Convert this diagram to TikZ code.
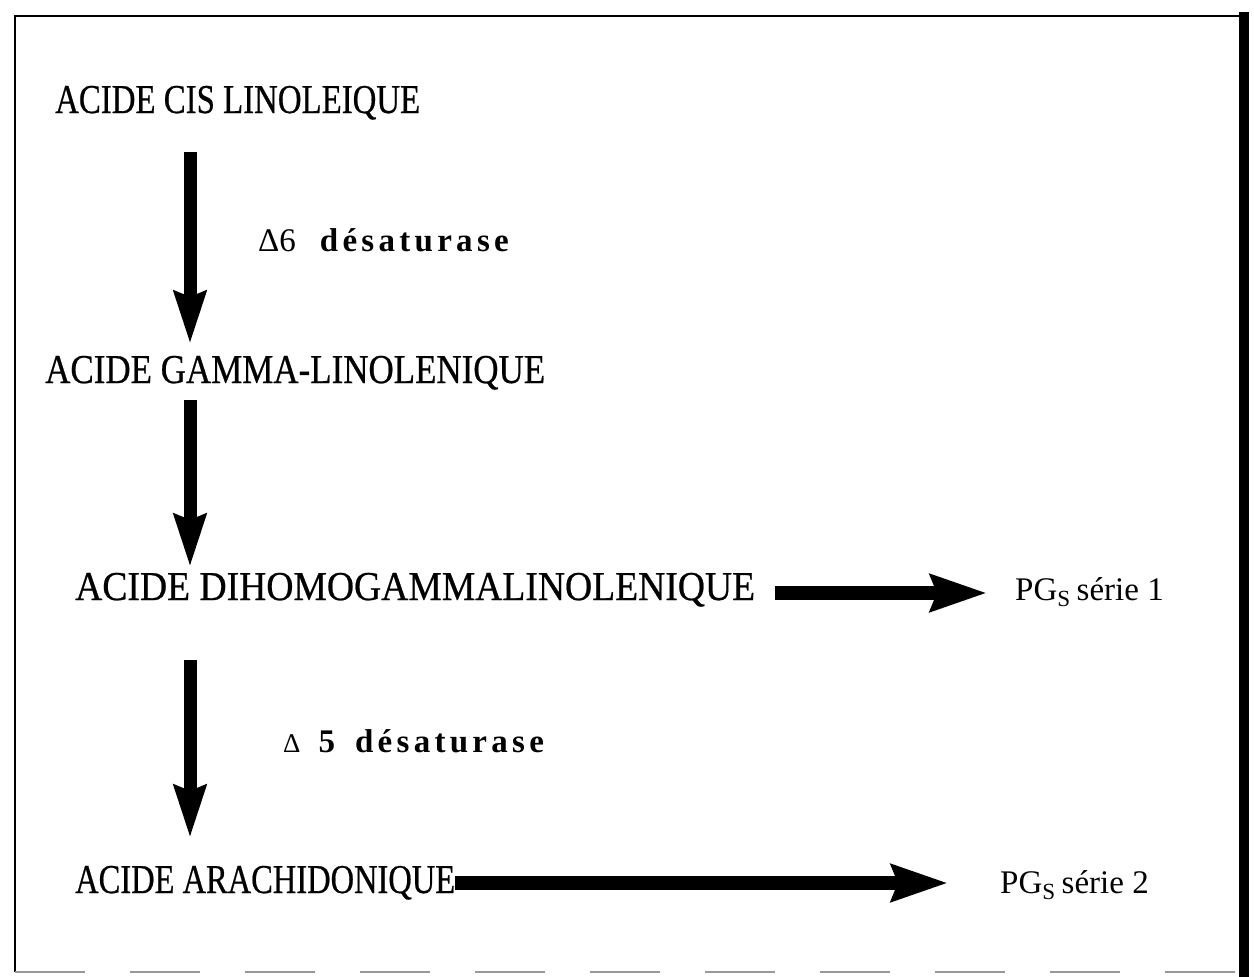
\documentclass[tikz,border=0pt]{standalone}
\usepackage{fontspec}
\setmainfont{Liberation Serif}
\newfontfamily\lblfont[LetterSpace=13]{Liberation Serif}
\newfontfamily\bigfont[FakeBold=0.6]{Liberation Serif}
\usetikzlibrary{arrows.meta}
\newcommand{\fitw}[2]{\resizebox{#1}{\height}{#2}}
\tikzset{
  big/.style={anchor=base west, inner sep=0pt, font=\bigfont\fontsize{41}{43}\selectfont},
  lbl/.style={anchor=base west, inner sep=0pt, font=\fontsize{33}{36}\selectfont},
  pg/.style={anchor=base west, inner sep=0pt, font=\fontsize{33}{35}\selectfont},
  varrow/.style={line width=13pt, -{Stealth[length=52pt, width=31pt, inset=5pt]}},
  harrow/.style={line width=14pt, -{Stealth[length=56pt, width=36pt, inset=6pt]}}
}
\begin{document}
\begin{tikzpicture}[x=1pt,y=-1pt]
\useasboundingbox (0,0) rectangle (1254,977);
% frame
\draw[line width=2pt] (15,972) -- (15,16) -- (1244,16);
\draw[line width=10pt] (1244,12) -- (1244,977);
\draw[line width=2pt, black!40, dash pattern=on 70pt off 45pt] (15,972) -- (1240,972);
% texts
\node[big] (t1) at (55,113) {\fitw{365pt}{ACIDE CIS LINOLEIQUE}};
\node[big] (t2) at (45,383) {\fitw{500pt}{ACIDE GAMMA-LINOLENIQUE}};
\node[big] (t3) at (75,600) {\fitw{680pt}{ACIDE DIHOMOGAMMALINOLENIQUE}};
\node[big] (t4) at (75,893) {\fitw{380pt}{ACIDE ARACHIDONIQUE}};
\node[lbl] (l1) at (258,251) {Δ6\hspace{24pt}{\lblfont\bfseries désaturase}};
\node[lbl] (l2) at (283,752) {{\fontsize{27}{30}\selectfont Δ}\hspace{18pt}\textbf{5}\hspace{20pt}{\lblfont\bfseries désaturase}};
\node[pg] (p1) at (1015,600) {PG\textsubscript{S}\hspace{6pt}série 1};
\node[pg] (p2) at (1000,893) {PG\textsubscript{S}\hspace{6pt}série 2};
% arrows
\coordinate (ax) at (190,0);
\draw[varrow] (ax |- 0,152) -- (ax |- 0,344);
\draw[varrow] (ax |- 0,400) -- (ax |- 0,567);
\draw[varrow] (ax |- 0,660) -- (ax |- 0,838);
\draw[harrow] (t3.base east) ++(20,-7) coordinate (h1s) (h1s) -- (987,593);
\draw[harrow] (t4.base east) ++(0,-10) coordinate (h2s) (h2s) -- (948,883);
\end{tikzpicture}
\end{document}
